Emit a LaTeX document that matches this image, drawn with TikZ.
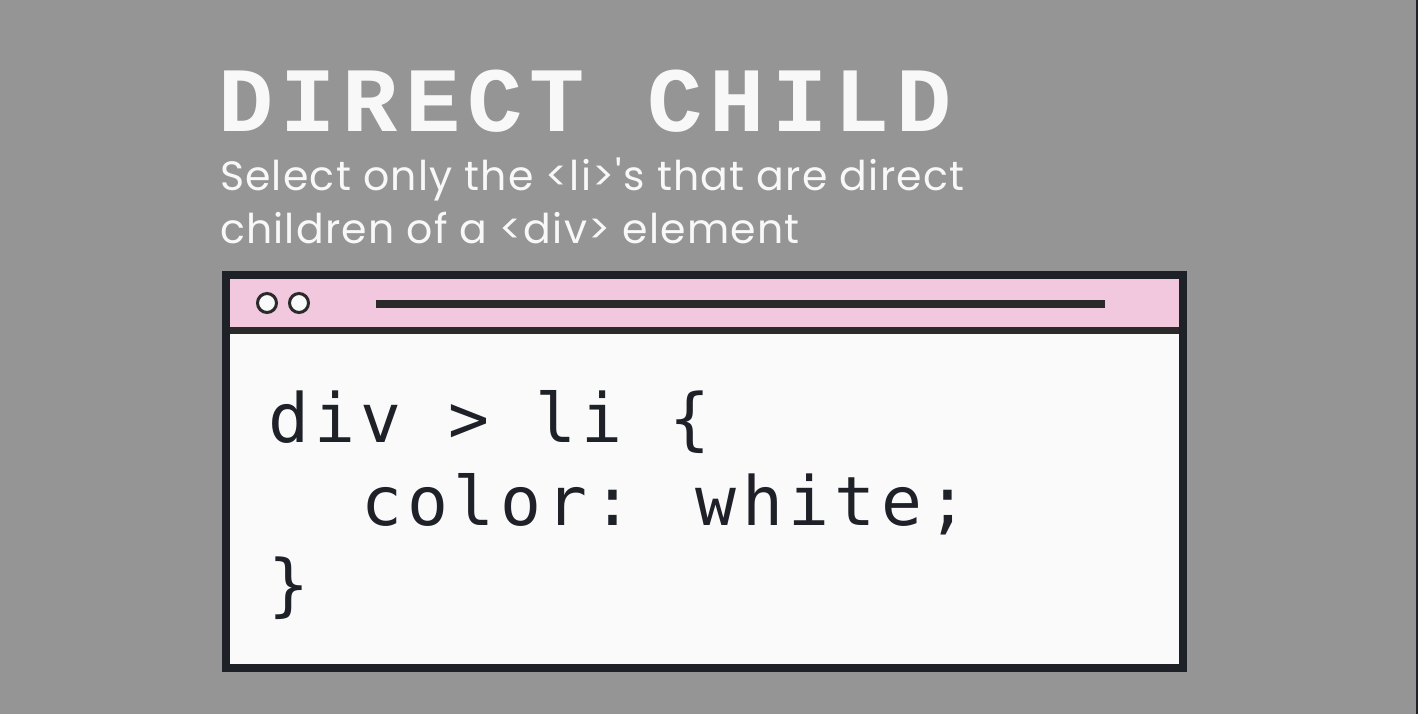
\documentclass[tikz,border=0pt]{standalone}
\usepackage{fontspec}
\setmainfont{Poppins}
\newfontfamily\titlefont[LetterSpace=7.8]{Liberation Mono Bold}
\newfontfamily\codefont[LetterSpace=8]{DejaVu Sans Mono}
\newfontfamily\subfont[LetterSpace=3,Ligatures=NoCommon]{Poppins}
\definecolor{bggray}{HTML}{959595}
\definecolor{frame}{HTML}{1E2127}
\definecolor{barpink}{HTML}{F2C8DF}
\definecolor{paper}{HTML}{FAFAFA}
\definecolor{titlewhite}{HTML}{F8F8F8}
\definecolor{bardark}{HTML}{2A2A2A}
\tikzset{
  txt/.style={inner sep=0pt, outer sep=0pt, anchor=base west},
  titletxt/.style={txt, text=titlewhite, font=\titlefont\fontsize{92}{92}\selectfont},
  subtxt/.style={txt, text=titlewhite, font=\subfont\fontsize{41}{41}\selectfont},
  codetxt/.style={txt, text=frame, font=\codefont\fontsize{68}{68}\selectfont},
  dot/.style={circle, draw=bardark, line width=3pt, fill=paper, minimum size=19pt, inner sep=0pt},
}
\begin{document}
\begin{tikzpicture}[x=1pt,y=-1pt]
\useasboundingbox (0,0) rectangle (1418,714);
\fill[bggray] (0,0) rectangle (1418,714);
\fill[frame] (1416,0) rectangle (1418,714);
% window
\fill[barpink] (226,275) rectangle (1183,330);
\fill[paper] (226,330) rectangle (1183,668);
\draw[bardark, line width=7pt] (226,330.5) -- (1183,330.5);
\draw[frame, line width=8pt] (226,275) rectangle (1183,668);
\node[dot] (d1) at (267,303) {};
\node[dot] (d2) at (299,303) {};
\coordinate (l1) at (376,303.5);
\coordinate (l2) at (1105,303.5);
\draw[bardark, line width=8pt] (l1) -- (l2);
% texts
\node[titletxt] (title) at (218,132) {DIRECT CHILD};
\node[subtxt] (sub1) at (220,190) {Select only the <li>{\char"27}s that are direct};
\node[subtxt] (sub2) at (220,243) {children of a <div> element};
\node[codetxt] (c1) at (268,442) {div > li \{};
\node[codetxt] (c2) at (361,525) {color: white;};
\node[codetxt] (c3) at (268,608) {\}};
\end{tikzpicture}
\end{document}
